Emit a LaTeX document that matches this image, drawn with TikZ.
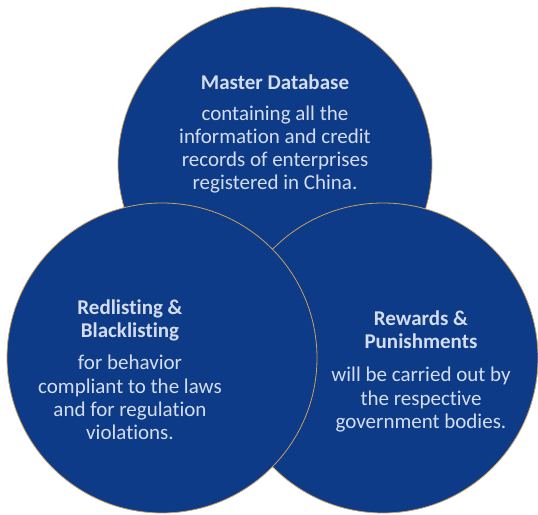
\documentclass[tikz,border=0pt]{standalone}
\usepackage{fontspec}
\setmainfont[Ligatures=NoCommon]{Carlito}
\definecolor{circfill}{HTML}{0D3B88}
\definecolor{circline}{HTML}{C9A063}
\definecolor{txt}{HTML}{D4DDEE}
\begin{document}
\begin{tikzpicture}[x=1pt,y=1pt,
  bubble/.style={circle, fill=circfill, draw=circline, line width=0.8pt, inner sep=0pt},
  label/.style={text=txt, align=center, font=\fontsize{21}{23.3}\selectfont}]
\useasboundingbox (0,0) rectangle (538,514);
\fill[white] (0,0) rectangle (538,514);
\node[bubble, minimum size=314pt] (top) at (275,350) {};
\node[bubble, minimum size=310pt] (right) at (383,156) {};
\node[bubble, minimum size=310pt] (left) at (162,156) {};
\node[label, anchor=north] (ttop) at (275,443) {\textbf{Master Database}\\[7.5pt]containing all the\\information and credit\\records of enterprises\\registered in China.};
\node[label, anchor=north] (tleft) at (130,218) {\textbf{Redlisting \&}\\\textbf{Blacklisting}\\[9pt]for behavior\\compliant to the laws\\and for regulation\\violations.};
\node[label, anchor=north] (tright) at (421,207) {\textbf{Rewards \&}\\\textbf{Punishments}\\[10pt]will be carried out by\\the respective\\government bodies.};
\end{tikzpicture}
\end{document}
